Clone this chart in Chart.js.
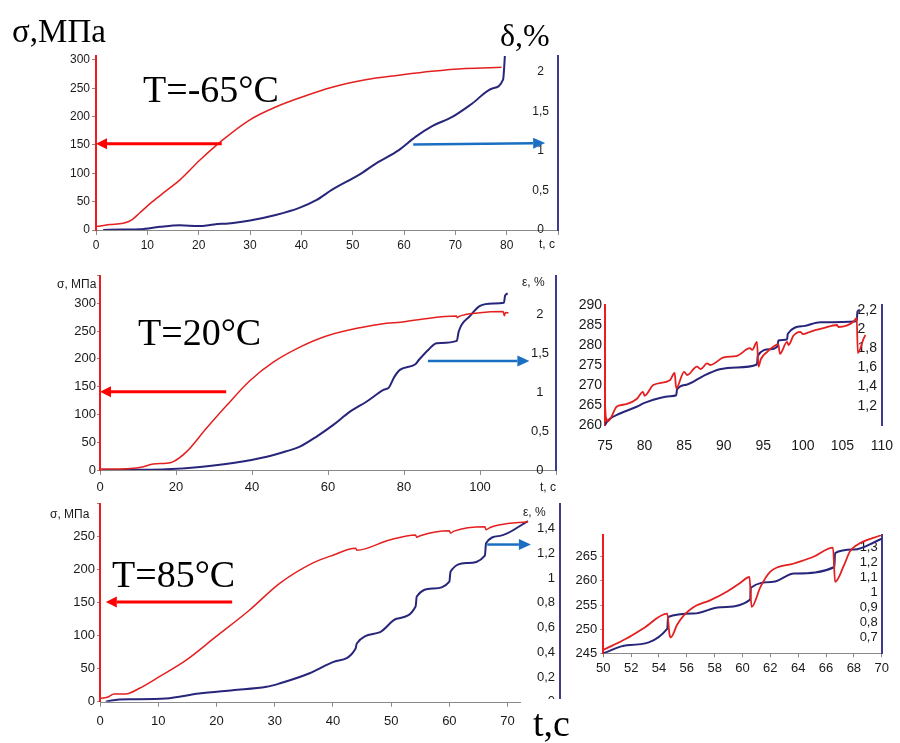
<!DOCTYPE html>
<html>
<head>
<meta charset="utf-8">
<title>σ, ε – t</title>
<script src="https://cdn.jsdelivr.net/npm/chart.js@4.4.1/dist/chart.umd.min.js"></script>
<style>
  body { margin: 0; background: #fff; }
  #page { position: relative; width: 900px; height: 743px; overflow: hidden; background: #fff; }
  canvas { position: absolute; }
  .label { position: absolute; white-space: nowrap; line-height: 1; color: #000; }
  .serif { font-family: "Liberation Serif", "Times New Roman", serif; }
  .sans { font-family: "Liberation Sans", Arial, sans-serif; font-size: 12px; color: #1a1a1a; }
</style>
</head>
<body>
<div id="page">
  <canvas id="chart-cold"></canvas>
  <canvas id="chart-room"></canvas>
  <canvas id="chart-hot"></canvas>
  <canvas id="zoom-room"></canvas>
  <canvas id="zoom-hot"></canvas>

  <div class="label serif" style="left:12px;top:15px;font-size:33px">σ,МПа</div>
  <div class="label serif" style="left:500px;top:19px;font-size:32px">δ,%</div>
  <div class="label serif" style="left:143px;top:70px;font-size:38px">T=-65°C</div>
  <div class="label sans" style="left:539px;top:238px">t, c</div>

  <div class="label sans" style="left:57px;top:278px">σ, МПа</div>
  <div class="label sans" style="left:522px;top:276px">ε, %</div>
  <div class="label serif" style="left:138px;top:313px;font-size:38px">T=20°C</div>
  <div class="label sans" style="left:540px;top:481px">t, c</div>

  <div class="label sans" style="left:50px;top:508px">σ, МПа</div>
  <div class="label sans" style="left:523px;top:506px">ε, %</div>
  <div class="label serif" style="left:112px;top:555px;font-size:38px">T=85°C</div>
  <div class="label serif" style="left:533px;top:699px;padding-top:5px;font-size:38px;background:#fff">t,c</div>
</div>

<script>
// T = -65 °C : stress (MPa) and elongation (%) against time (s)
const coldStressTime = [0, 1.5, 2.7, 5.3, 7, 8.5, 11, 13.5, 16.3, 20.2, 24.7, 29.9, 35, 39.6, 46, 52.5, 59, 65.4, 72, 79];
const coldStress = [6, 8, 9.5, 12, 18, 30, 50, 68, 88, 123, 159, 194, 217, 233, 252, 265, 273, 280, 285, 287];
const coldStrainTime = [1.4, 5, 8.6, 12.4, 16.3, 20, 23, 26.7, 30, 35, 39.6, 43, 46, 51.3, 54.5, 59, 62.3, 65.4, 69.4, 73.3, 77.2, 79.3, 79.7];
const coldStrain = [0, 0.005, 0.01, 0.04, 0.06, 0.05, 0.07, 0.09, 0.12, 0.19, 0.28, 0.38, 0.51, 0.7, 0.84, 1.01, 1.18, 1.31, 1.43, 1.6, 1.79, 1.9, 2.25];

// T = 20 °C
const roomStressTime = [0, 5, 8.8, 11.4, 14, 17.5, 19.3, 22.8, 28, 33.3, 39.5, 45.6, 52.6, 59.6, 68.4, 75.4, 79, 84.2, 93.8, 94, 94.5, 100, 106.1, 106.4, 106.7, 107.5];
const roomStress = [2, 2, 3, 6, 11, 12, 15, 33, 75, 116, 161, 194, 221, 241, 256, 264, 266, 271, 277, 274, 276.5, 283, 285, 277.5, 283.5, 282.5];
const roomStrainTime = [0.5, 10, 17.5, 26.3, 35, 43.9, 49, 52.6, 57, 61.4, 65.8, 70.2, 74.6, 76, 77.5, 79, 83, 84, 86.5, 88.6, 93.9, 94.4, 97.4, 100, 103.5, 106.3, 106.6, 107.3];
const roomStrain = [0, 0.003, 0.01, 0.04, 0.09, 0.17, 0.24, 0.3, 0.43, 0.58, 0.75, 0.88, 1.03, 1.06, 1.2, 1.29, 1.36, 1.42, 1.55, 1.63, 1.66, 1.78, 1.98, 2.11, 2.14, 2.15, 2.24, 2.27];

// T = 85 °C
const hotStressTime = [0, 1.5, 2.4, 4.4, 6.7, 10.2, 14.8, 19.9, 25.7, 30.8, 36.5, 40, 43.9, 44.1, 49.7, 54.2, 54.4, 55, 60, 60.2, 60.8, 66.1, 66.3, 67, 68.7, 73.5];
const hotStress = [5, 7.6, 11.7, 11.7, 20, 38, 63, 98.5, 139, 179, 210, 222, 232.4, 229.5, 245, 252.6, 249, 251.5, 259, 255.5, 258.5, 265, 260.5, 264, 268, 272.7];
const hotStrainTime = [1, 3.3, 5.6, 11.3, 17, 22.8, 28.6, 30.8, 36, 40, 43.9, 44.1, 48, 50.9, 54.2, 54.4, 57.2, 60, 60.2, 63, 66.1, 66.3, 68.7, 73.5];
const hotStrain = [0, 0.018, 0.02, 0.026, 0.066, 0.093, 0.12, 0.147, 0.23, 0.32, 0.43, 0.47, 0.56, 0.67, 0.77, 0.85, 0.915, 0.97, 1.05, 1.12, 1.18, 1.28, 1.34, 1.46];

// T = 20 °C, detail 75..110 s
const zoomRoomStressTime = [75, 75.1, 75.4, 76.5, 77.7, 79, 79.8, 80, 81.1, 83.2, 83.8, 84, 85, 85.4, 86.6, 87.1, 87.9, 88.3, 90, 91.7, 93.3, 93.6, 94.2, 94.4, 94.7, 95.5, 96.3, 96.9, 97.1, 98, 98.2, 98.8, 99.7, 100, 100.9, 102.6, 104.3, 104.5, 106.4, 106.8, 106.95, 107.7, 107.9];
const zoomRoomStress = [265.4, 262, 261, 264.6, 265.2, 266.5, 268.3, 267.3, 270, 271.2, 273, 269.2, 273.3, 272.5, 274.6, 274, 275.4, 275, 276.9, 277.3, 279.2, 278.8, 280.8, 274.6, 276.5, 278.3, 279.6, 280.2, 277.8, 280.8, 280, 282.3, 283.3, 282.7, 283.3, 284.2, 285, 284.5, 285.8, 286.8, 278, 281.7, 282.5];
const zoomRoomStrainTime = [75, 75.4, 76.9, 79, 80, 83.2, 84, 84.1, 85.3, 87.4, 89.5, 91.6, 94.2, 94.3, 95.9, 96.8, 96.9, 98, 98.1, 100.1, 102.2, 106.8, 106.9, 107.2];
const zoomRoomStrain = [1, 1.05, 1.12, 1.19, 1.23, 1.3, 1.31, 1.37, 1.42, 1.51, 1.58, 1.6, 1.63, 1.72, 1.79, 1.82, 1.88, 1.89, 1.95, 2.03, 2.07, 2.08, 2.18, 2.2];

// T = 85 °C, detail 50..70 s
const zoomHotStressTime = [50, 51.7, 52.9, 54.6, 54.75, 54.85, 55.3, 55.8, 56.5, 57.7, 58.9, 59.8, 60.5, 60.65, 61.3, 62, 63.7, 65.1, 66.5, 66.65, 67.3, 67.7, 68.2, 70];
const zoomHotStress = [245.7, 248.1, 250.2, 253.2, 249, 248.3, 250.9, 252.9, 254.6, 256, 257.8, 259.5, 260.8, 254.6, 258.8, 261.9, 263.6, 265, 266.9, 259.8, 263.3, 266, 267.4, 269.5];
const zoomHotStrainTime = [50, 51.7, 54.6, 54.65, 56.5, 58.4, 60.55, 60.6, 62.2, 63.7, 66.6, 66.65, 68, 70];
const zoomHotStrain = [0.59, 0.644, 0.756, 0.834, 0.857, 0.9, 0.951, 1.03, 1.07, 1.126, 1.17, 1.264, 1.287, 1.36];

(function() {
  "use strict";

  const RED = "#e3201f";
  const RED_AXIS = "#ee1c1c";
  const NAVY = "#28267a";
  const NAVY_AXIS = "#3e3b8e";
  const ARROW_BLUE = "#1a6fc2";
  const GREY = "#8a8a8a";

  Chart.defaults.font.family = '"Liberation Sans", Arial, sans-serif';
  Chart.defaults.color = "#1a1a1a";

  /**
   * Draws the pointer arrows, placed with the chart's own scales.
   */
  const arrowPlugin = {
    id: "arrows",
    afterDatasetsDraw(chart, args, opts) {
      let ctx = chart.ctx;
      let xs = chart.scales.x;
      (opts.list || []).forEach(a => {
        let ys = chart.scales[a.axis];
        let x1 = xs.getPixelForValue(a.from[0]);
        let y1 = ys.getPixelForValue(a.from[1]);
        let x2 = xs.getPixelForValue(a.to[0]);
        let y2 = ys.getPixelForValue(a.to[1]);
        let ang = Math.atan2(y2 - y1, x2 - x1);
        let bx = x2 - a.head * Math.cos(ang);
        let by = y2 - a.head * Math.sin(ang);
        ctx.save();
        ctx.strokeStyle = a.color;
        ctx.fillStyle = a.color;
        ctx.lineWidth = a.width;
        ctx.beginPath();
        ctx.moveTo(x1, y1);
        ctx.lineTo(bx, by);
        ctx.stroke();
        ctx.beginPath();
        ctx.moveTo(x2, y2);
        ctx.lineTo(bx + a.half * Math.sin(ang), by - a.half * Math.cos(ang));
        ctx.lineTo(bx - a.half * Math.sin(ang), by + a.half * Math.cos(ang));
        ctx.closePath();
        ctx.fill();
        ctx.restore();
      });
    }
  };

  /**
   * Time axis line that stops short of the right edge (85 °C chart).
   */
  const shortAxisPlugin = {
    id: "shortAxis",
    afterDraw(chart, args, opts) {
      if (opts.end === undefined) {
        return;
      }
      let ctx = chart.ctx;
      let area = chart.chartArea;
      let y = Math.round(area.bottom) + 0.5;
      ctx.save();
      ctx.strokeStyle = GREY;
      ctx.lineWidth = 1;
      ctx.beginPath();
      ctx.moveTo(area.left, y);
      ctx.lineTo(chart.scales.x.getPixelForValue(opts.end), y);
      ctx.stroke();
      ctx.restore();
    }
  };

  function commaNumber(v) {
    return String(Math.round(v * 100) / 100).replace(".", ",");
  }

  function toPoints(xs, ys) {
    return xs.map((x, i) => ({x: x, y: ys[i]}));
  }

  function fixWidth(w) {
    return scale => {
      scale.width = w;
      scale.paddingTop = 0;
      scale.paddingBottom = 0;
    };
  }

  function fixHeight(h) {
    return scale => {
      scale.height = h;
      scale.paddingLeft = 0;
      scale.paddingRight = 0;
    };
  }

  function xScale(o, height) {
    return {
      type: "linear",
      min: o.min,
      max: o.max,
      afterFit: fixHeight(height),
      border: {display: o.border !== false, color: GREY, width: 1},
      grid: {
        display: true,
        drawOnChartArea: false,
        drawTicks: o.tickLength > 0,
        tickLength: o.tickLength,
        tickColor: GREY
      },
      ticks: {
        stepSize: o.step,
        includeBounds: false,
        autoSkip: false,
        maxRotation: 0,
        padding: o.padding,
        font: {size: o.fontSize},
        callback: v => (v > o.lastLabel ? "" : commaNumber(v))
      }
    };
  }

  function yScale(o, width, position, color) {
    return {
      type: "linear",
      position: position,
      min: o.min,
      max: o.max,
      afterFit: fixWidth(width),
      border: {display: true, color: color, width: 2},
      grid: {
        display: o.tickLength > 0,
        drawOnChartArea: false,
        drawTicks: o.tickLength > 0,
        tickLength: o.tickLength,
        tickColor: GREY
      },
      ticks: {
        stepSize: o.step,
        includeBounds: false,
        autoSkip: false,
        padding: o.padding,
        mirror: !!o.mirror,
        crossAlign: o.crossAlign || "near",
        font: {size: o.fontSize},
        callback: v => ((v < o.firstLabel - 1e-6 || v > o.lastLabel + 1e-6) ? "" : commaNumber(v))
      }
    };
  }

  /**
   * Builds one stress / strain chart on an absolutely placed canvas.
   */
  function makeChart(canvasId, spec) {
    let canvas = document.getElementById(canvasId);
    let box = spec.box;
    let area = spec.area;
    canvas.width = box.width;
    canvas.height = box.height;
    canvas.style.left = box.left + "px";
    canvas.style.top = box.top + "px";

    let leftWidth = area.left - box.left;
    let rightWidth = box.left + box.width - area.right;
    let bottomHeight = box.top + box.height - area.bottom;

    return new Chart(canvas, {
      type: "line",
      data: {
        datasets: [{
          data: toPoints(spec.stress[0], spec.stress[1]),
          yAxisID: "y",
          borderColor: RED,
          borderWidth: spec.redWidth || 1.5
        }, {
          data: toPoints(spec.strain[0], spec.strain[1]),
          yAxisID: "y2",
          borderColor: NAVY,
          borderWidth: spec.navyWidth || 2
        }]
      },
      options: {
        responsive: false,
        animation: false,
        devicePixelRatio: 1,
        layout: {padding: {top: area.top - box.top, left: 0, right: 0, bottom: 0}},
        elements: {
          point: {radius: 0},
          line: {cubicInterpolationMode: "monotone", fill: false}
        },
        plugins: {
          legend: {display: false},
          tooltip: {enabled: false},
          arrows: {list: spec.arrows || []},
          shortAxis: {end: spec.axisEnd}
        },
        scales: {
          x: xScale(spec.x, bottomHeight),
          y: yScale(spec.y, leftWidth, "left", RED_AXIS),
          y2: yScale(spec.y2, rightWidth, "right", NAVY_AXIS)
        }
      },
      plugins: [arrowPlugin, shortAxisPlugin]
    });
  }

  function init() {
    makeChart("chart-cold", {
      box: {left: 0, top: 40, width: 580, height: 215},
      area: {left: 96, right: 558, top: 56, bottom: 230},
      stress: [coldStressTime, coldStress],
      strain: [coldStrainTime, coldStrain],
      x: {min: 0, max: 90, step: 10, lastLabel: 80, tickLength: 5, padding: 3, fontSize: 12},
      y: {min: 0, max: 307, step: 50, firstLabel: 0, lastLabel: 300, tickLength: 4, padding: 2, fontSize: 12},
      y2: {min: 0, max: 2.2, step: 0.5, firstLabel: 0, lastLabel: 2, tickLength: 0, padding: -9, mirror: true,
        crossAlign: "center", fontSize: 12},
      arrows: [
        {axis: "y", from: [24.5, 152], to: [0, 152], color: "#ff0000", width: 3, head: 11, half: 5.5},
        {axis: "y2", from: [61.8, 1.08], to: [87.5, 1.1], color: ARROW_BLUE, width: 2.5, head: 12, half: 5.5}
      ]
    });

    makeChart("chart-room", {
      box: {left: 0, top: 262, width: 580, height: 238},
      area: {left: 100, right: 556, top: 275.5, bottom: 470},
      stress: [roomStressTime, roomStress],
      strain: [roomStrainTime, roomStrain],
      x: {min: 0, max: 120, step: 20, lastLabel: 100, tickLength: 5, padding: 5, fontSize: 13},
      y: {min: 0, max: 350, step: 50, firstLabel: 0, lastLabel: 300, tickLength: 3, padding: 1, fontSize: 13},
      y2: {min: 0, max: 2.5, step: 0.5, firstLabel: 0, lastLabel: 2, tickLength: 0, padding: -7, mirror: true,
        crossAlign: "center", fontSize: 13},
      arrows: [
        {axis: "y", from: [33.2, 141], to: [0, 141], color: "#ff0000", width: 3, head: 11, half: 5.5},
        {axis: "y2", from: [86.3, 1.4], to: [113, 1.4], color: ARROW_BLUE, width: 2.5, head: 12, half: 5.5}
      ]
    });

    makeChart("chart-hot", {
      box: {left: 0, top: 495, width: 580, height: 240},
      area: {left: 100, right: 560, top: 503.7, bottom: 701.7},
      stress: [hotStressTime, hotStress],
      strain: [hotStrainTime, hotStrain],
      axisEnd: 72.3,
      x: {min: 0, max: 79, step: 10, lastLabel: 70, tickLength: 5, padding: 7, fontSize: 13, border: false},
      y: {min: 0, max: 300, step: 50, firstLabel: 0, lastLabel: 250, tickLength: 3, padding: 2, fontSize: 13},
      y2: {min: 0, max: 1.6, step: 0.2, firstLabel: 0, lastLabel: 1.4, tickLength: 0, padding: -5, mirror: true,
        crossAlign: "near", fontSize: 13},
      arrows: [
        {axis: "y", from: [22.7, 151], to: [1, 151], color: "#ff0000", width: 3, head: 11, half: 5.5},
        {axis: "y2", from: [66.5, 1.27], to: [74, 1.27], color: ARROW_BLUE, width: 2.5, head: 12, half: 5.5}
      ]
    });

    makeChart("zoom-room", {
      box: {left: 565, top: 295, width: 335, height: 160},
      area: {left: 605, right: 882, top: 305, bottom: 425},
      stress: [zoomRoomStressTime, zoomRoomStress],
      strain: [zoomRoomStrainTime, zoomRoomStrain],
      redWidth: 1.8,
      navyWidth: 2,
      x: {min: 75, max: 110, step: 5, lastLabel: 110, tickLength: 0, padding: 13, fontSize: 14, border: false},
      y: {min: 260, max: 290, step: 5, firstLabel: 260, lastLabel: 290, tickLength: 0, padding: 3, fontSize: 14},
      y2: {min: 1, max: 2.25, step: 0.2, firstLabel: 1.2, lastLabel: 2.2, tickLength: 0, padding: -5, mirror: true,
        crossAlign: "far", fontSize: 14}
    });

    makeChart("zoom-hot", {
      box: {left: 565, top: 525, width: 335, height: 150},
      area: {left: 603.3, right: 881.7, top: 535, bottom: 653.3},
      stress: [zoomHotStressTime, zoomHotStress],
      strain: [zoomHotStrainTime, zoomHotStrain],
      redWidth: 1.8,
      navyWidth: 2,
      x: {min: 50, max: 70, step: 2, lastLabel: 70, tickLength: 4, padding: 3, fontSize: 13},
      y: {min: 245, max: 269.5, step: 5, firstLabel: 245, lastLabel: 265, tickLength: 3, padding: 3, fontSize: 13},
      y2: {min: 0.59, max: 1.385, step: 0.1, firstLabel: 0.7, lastLabel: 1.3, tickLength: 0, padding: -4, mirror: true,
        crossAlign: "near", fontSize: 13}
    });
  }

  init();
})();
</script>
</body>
</html>
